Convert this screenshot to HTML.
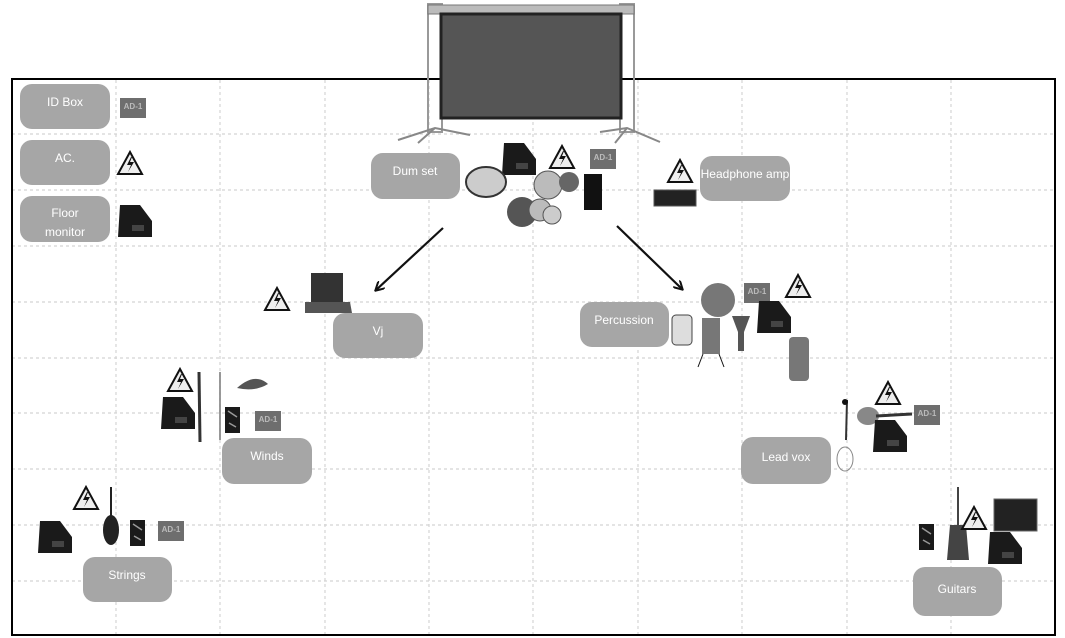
<!DOCTYPE html>
<html><head><meta charset="utf-8"><style>
html,body{margin:0;padding:0;background:#fff;}
svg{display:block;}
text{font-family:"Liberation Sans",sans-serif;}
</style></head><body>
<svg width="1065" height="638" viewBox="0 0 1065 638" xmlns="http://www.w3.org/2000/svg">
<defs>
<g id="warn"><path d="M0,22 L12,0 L24,22 Z" fill="#eee" stroke="#111" stroke-width="2"/><path d="M13,5 L9,13 L13,13 L10,20 L16,10 L12,10 L14,5Z" fill="#111"/></g>
<g id="mon"><path d="M2,0 L22,0 L34,16 L34,32 L0,32 Z" fill="#1a1a1a"/><rect x="14" y="20" width="12" height="6" fill="#444"/></g>
<g id="ad"><rect x="0" y="0" width="26" height="20" fill="#6e6e6e"/><text x="13" y="11" font-size="8" fill="#bbb" text-anchor="middle" font-weight="bold">AD-1</text></g>
<g id="di"><rect x="0" y="0" width="15" height="26" fill="#1a1a1a"/><path d="M3,4 L12,10 M4,16 L11,20" stroke="#999" stroke-width="1.5"/></g>
<marker id="ah" markerWidth="10" markerHeight="10" refX="8" refY="5" orient="auto" markerUnits="userSpaceOnUse"><path d="M0,0 L9,5 L0,10" fill="none" stroke="#111" stroke-width="2"/></marker>
</defs>
<!-- grid -->
<g stroke="#d4d4d4" stroke-width="1.2" stroke-dasharray="3,3">
<line x1="116" y1="80" x2="116" y2="634"/><line x1="220" y1="80" x2="220" y2="634"/><line x1="325" y1="80" x2="325" y2="634"/><line x1="429" y1="80" x2="429" y2="634"/><line x1="533" y1="80" x2="533" y2="634"/><line x1="638" y1="80" x2="638" y2="634"/><line x1="742" y1="80" x2="742" y2="634"/><line x1="847" y1="80" x2="847" y2="634"/><line x1="951" y1="80" x2="951" y2="634"/>
<line x1="12" y1="134" x2="1054" y2="134"/><line x1="12" y1="190" x2="1054" y2="190"/><line x1="12" y1="246" x2="1054" y2="246"/><line x1="12" y1="302" x2="1054" y2="302"/><line x1="12" y1="358" x2="1054" y2="358"/><line x1="12" y1="413" x2="1054" y2="413"/><line x1="12" y1="469" x2="1054" y2="469"/><line x1="12" y1="525" x2="1054" y2="525"/><line x1="12" y1="581" x2="1054" y2="581"/>
</g>
<rect x="12" y="79" width="1043" height="556" fill="none" stroke="#000" stroke-width="2"/>
<!-- screen -->
<rect x="428" y="4" width="14" height="128" fill="none" stroke="#999" stroke-width="2"/>
<rect x="620" y="4" width="14" height="128" fill="none" stroke="#999" stroke-width="2"/>
<rect x="428" y="5" width="206" height="9" fill="#bbb" stroke="#777"/>
<rect x="441" y="14" width="180" height="104" fill="#555" stroke="#222" stroke-width="3"/>
<path d="M398,140 L435,128 L470,135 M418,143 L435,128 M600,132 L627,128 L660,142 M615,143 L627,128" stroke="#888" stroke-width="2" fill="none"/>
<!-- labels -->
<g fill="#a6a6a6">
<rect x="20" y="84" width="90" height="45" rx="12"/><rect x="20" y="140" width="90" height="45" rx="12"/><rect x="20" y="196" width="90" height="46" rx="12"/>
<rect x="371" y="153" width="89" height="46" rx="12"/><rect x="700" y="156" width="90" height="45" rx="12"/>
<rect x="333" y="313" width="90" height="45" rx="12"/><rect x="580" y="302" width="89" height="45" rx="12"/>
<rect x="222" y="438" width="90" height="46" rx="12"/><rect x="741" y="437" width="90" height="47" rx="12"/>
<rect x="83" y="557" width="89" height="45" rx="12"/><rect x="913" y="567" width="89" height="49" rx="12"/>
</g>
<g fill="#fff" font-size="12" text-anchor="middle">
<text x="65" y="106">ID Box</text><text x="65" y="162">AC.</text><text x="65" y="217">Floor</text><text x="65" y="236">monitor</text>
<text x="415" y="175">Dum set</text><text x="745" y="178">Headphone amp</text>
<text x="378" y="335">Vj</text><text x="624" y="324">Percussion</text>
<text x="267" y="460">Winds</text><text x="786" y="461">Lead vox</text>
<text x="127" y="579">Strings</text><text x="957" y="593">Guitars</text>
</g>
<!-- arrows -->
<line x1="443" y1="228" x2="376" y2="290" stroke="#111" stroke-width="2.2" marker-end="url(#ah)"/>
<line x1="617" y1="226" x2="682" y2="289" stroke="#111" stroke-width="2.2" marker-end="url(#ah)"/>
<!-- legend icons -->
<use href="#ad" x="120" y="98"/><use href="#warn" x="118" y="152"/><use href="#mon" x="118" y="205"/>
<!-- drum set -->
<use href="#mon" x="502" y="143"/><use href="#warn" x="550" y="146"/><use href="#ad" x="590" y="149"/>
<ellipse cx="486" cy="182" rx="20" ry="15" fill="#ccc" stroke="#333" stroke-width="2"/>
<circle cx="548" cy="185" r="14" fill="#bbb" stroke="#555"/><circle cx="569" cy="182" r="10" fill="#666"/>
<circle cx="522" cy="212" r="15" fill="#555"/><circle cx="540" cy="210" r="11" fill="#bbb" stroke="#555"/><circle cx="552" cy="215" r="9" fill="#ccc" stroke="#555"/>
<rect x="584" y="174" width="18" height="36" fill="#111"/>
<!-- headphone amp -->
<use href="#warn" x="668" y="160"/><rect x="654" y="190" width="42" height="16" fill="#222" stroke="#555"/>
<!-- vj -->
<use href="#warn" x="265" y="288"/><path d="M311,273 L343,273 L343,302 L311,302Z" fill="#333"/><path d="M305,302 L350,302 L352,313 L305,313Z" fill="#555"/>
<!-- percussion -->
<circle cx="718" cy="300" r="17" fill="#777"/><use href="#ad" x="744" y="283"/><use href="#warn" x="786" y="275"/>
<use href="#mon" x="757" y="301"/>
<rect x="672" y="315" width="20" height="30" rx="4" fill="#ddd" stroke="#444"/>
<rect x="702" y="318" width="18" height="36" fill="#777"/><path d="M703,354 L698,367 M719,354 L724,367" stroke="#111"/>
<path d="M732,316 L750,316 L744,332 L744,351 L738,351 L738,332Z" fill="#555"/>
<rect x="789" y="337" width="20" height="44" rx="4" fill="#777"/>
<!-- winds -->
<use href="#warn" x="168" y="369"/><use href="#mon" x="161" y="397"/>
<line x1="199" y1="372" x2="200" y2="442" stroke="#333" stroke-width="3"/><line x1="220" y1="372" x2="220" y2="440" stroke="#777" stroke-width="1.5"/>
<path d="M237,388 Q255,372 268,384 Q255,392 237,388Z" fill="#555"/>
<use href="#di" x="225" y="407"/><use href="#ad" x="255" y="411"/>
<!-- strings -->
<use href="#warn" x="74" y="487"/><use href="#mon" x="38" y="521"/>
<ellipse cx="111" cy="530" rx="8" ry="15" fill="#222"/><line x1="111" y1="487" x2="111" y2="518" stroke="#222" stroke-width="2"/>
<use href="#di" x="130" y="520"/><use href="#ad" x="158" y="521"/>
<!-- lead vox -->
<use href="#warn" x="876" y="382"/><line x1="847" y1="400" x2="846" y2="440" stroke="#333" stroke-width="2"/>
<circle cx="845" cy="402" r="3" fill="#111"/><ellipse cx="845" cy="459" rx="8" ry="12" fill="none" stroke="#888"/>
<ellipse cx="868" cy="416" rx="11" ry="9" fill="#888"/><line x1="876" y1="416" x2="912" y2="414" stroke="#333" stroke-width="3"/>
<use href="#ad" x="914" y="405"/><use href="#mon" x="873" y="420"/>
<!-- guitars -->
<use href="#di" x="919" y="524"/><line x1="958" y1="487" x2="958" y2="527" stroke="#444" stroke-width="2"/>
<path d="M950,525 L966,525 L969,560 L947,560Z" fill="#444"/><use href="#warn" x="962" y="507"/>
<rect x="994" y="499" width="43" height="32" fill="#222" stroke="#666"/>
<use href="#mon" x="988" y="532"/>
</svg>
</body></html>
